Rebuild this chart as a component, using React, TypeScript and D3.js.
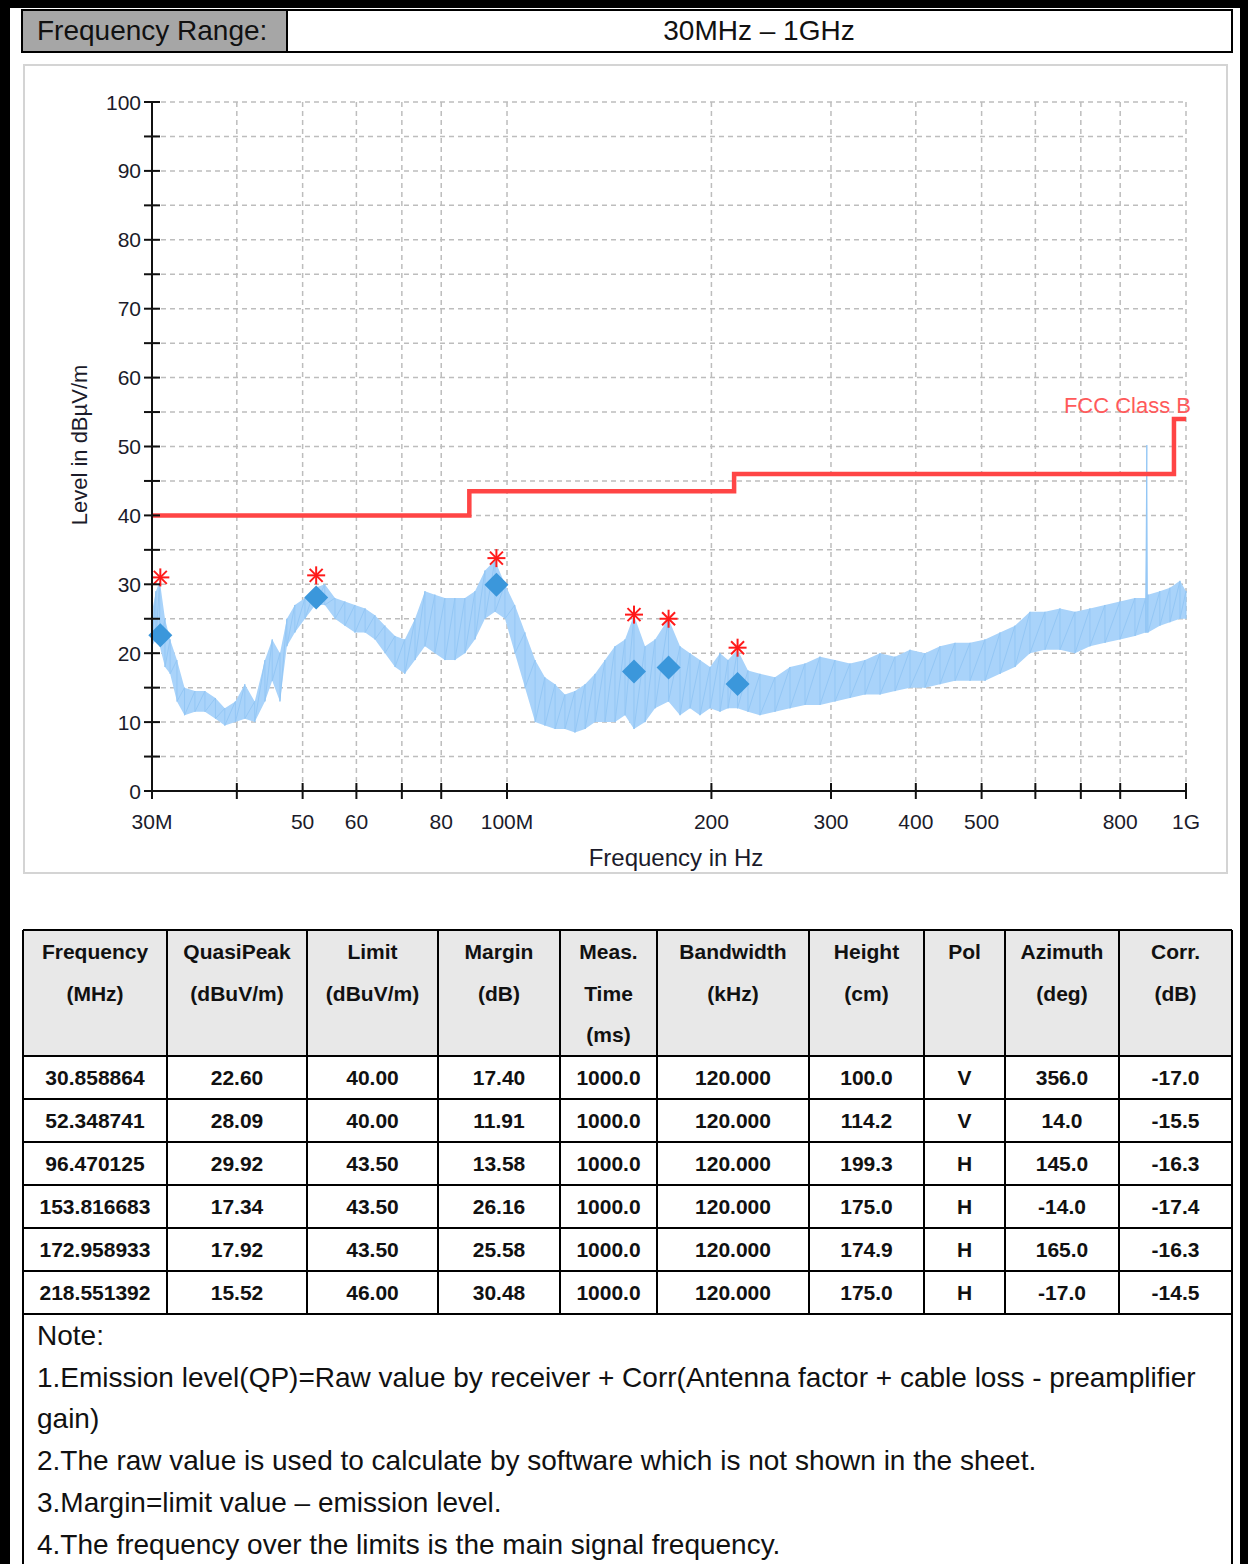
import React from 'react';
import * as d3 from 'd3';

// trace envelope (MHz, dBµV/m low / high)
const traceFreq = [30.0, 30.4, 30.8, 31.35, 31.9, 32.65, 33.5, 34.7, 35.9, 37.2, 38.4, 39.8, 41.1, 42.5, 44.0, 45.1, 46.3, 47.4, 48.7, 50.4,
  52.2, 53.9, 55.8, 57.7, 59.7, 61.8, 63.9, 66.1, 68.4, 70.7, 73.2, 75.7, 78.3, 81.0, 83.8, 86.7, 89.7, 92.8, 96.0, 99.3,
  102.7, 106.3, 110.0, 113.7, 117.7, 121.7, 125.9, 130.3, 134.8, 139.4, 144.2, 149.2, 153.8, 159.7, 165.2, 172.9, 179.8, 186.0, 192.4, 199.1,
  205.9, 211.6, 218.5, 226.4, 235.8, 248.1, 261.1, 274.7, 289.0, 304.1, 320.0, 336.7, 354.3, 372.8, 392.2, 412.7, 434.2, 456.9, 480.7, 505.8,
  532.2, 559.9, 589.1, 619.9, 652.2, 686.2, 722.0, 759.7, 799.3, 841.0, 872.0, 875.6, 879.0, 915.2, 947.0, 979.8, 1000];
const traceLow = [21, 22, 21, 18, 17, 13, 11, 11.5, 11.5, 10.5, 9.5, 10, 10.5, 10, 13, 16, 13, 21, 23, 25,
  27, 27, 25, 24, 23, 23, 22, 20, 18, 17, 19, 21, 20, 19, 19, 20, 22, 25, 26, 25,
  20, 15, 10, 9.5, 9, 9, 8.5, 9, 10, 10, 10, 11, 9, 10, 12, 13, 11, 12, 11, 12,
  11.5, 12, 12, 11.5, 11, 11.5, 12, 12.5, 12.5, 13, 13.5, 14, 14, 14.5, 15, 15, 15.5, 16, 16, 16,
  17, 18, 20, 20.5, 20.5, 20, 21, 21.5, 22, 22.5, 23, 23, 23, 24, 24.5, 25, 25];
const traceHigh = [26, 29, 30.5, 25, 22, 19, 15, 14.5, 14.5, 13.5, 12, 13, 15.5, 13, 19, 22, 20, 25, 27, 28,
  29.5, 30, 28, 27.5, 27, 26.5, 25.5, 24, 22.5, 22, 25, 29, 28.5, 28, 28, 28, 29, 32, 33.5, 30,
  27, 23, 19, 16.5, 15.5, 14, 14.5, 15.5, 17, 19, 21, 22, 25.5, 21, 22, 25, 21, 20, 19, 18,
  20, 19, 20.5, 17.5, 17, 16.5, 18, 18.5, 19.5, 19, 18.5, 19, 20, 19.5, 20.5, 20, 21, 21.5, 21.5, 22,
  23, 24, 26, 26, 26.5, 26, 26.5, 27, 27.5, 28, 28, 50.2, 28.5, 29, 29.5, 30.5, 29];

// FCC Class B limit steps
const limitFreq = [30, 88, 216, 960, 1000];
const limitLevel = [40, 43.5, 46, 54, 54];

// axis ticks
const xTicks = [30, 40, 50, 60, 70, 80, 100, 200, 300, 400, 500, 600, 700, 800, 1000];
const xTickLabels = ['30M', '', '50', '60', '', '80', '100M', '200', '300', '400', '500', '', '', '800', '1G'];
const yMajor = [0, 10, 20, 30, 40, 50, 60, 70, 80, 90, 100];
const yMinor = [5, 15, 25, 35, 45, 55, 65, 75, 85, 95];

// final measurement table
const frequency = ['30.858864', '52.348741', '96.470125', '153.816683', '172.958933', '218.551392'];
const quasiPeak = [22.60, 28.09, 29.92, 17.34, 17.92, 15.52];
const limit = [40.00, 40.00, 43.50, 43.50, 43.50, 46.00];
const margin = [17.40, 11.91, 13.58, 26.16, 25.58, 30.48];
const measTime = ['1000.0', '1000.0', '1000.0', '1000.0', '1000.0', '1000.0'];
const bandwidth = ['120.000', '120.000', '120.000', '120.000', '120.000', '120.000'];
const height = ['100.0', '114.2', '199.3', '175.0', '174.9', '175.0'];
const pol = ['V', 'V', 'H', 'H', 'H', 'H'];
const azimuth = ['356.0', '14.0', '145.0', '-14.0', '165.0', '-17.0'];
const corr = ['-17.0', '-15.5', '-16.3', '-17.4', '-16.3', '-14.5'];
// peak (pre-scan) levels for the star markers
const peakLevel = [31.0, 31.3, 33.8, 25.6, 25.0, 20.8];

const headers = [
  ['Frequency', '(MHz)'], ['QuasiPeak', '(dBuV/m)'], ['Limit', '(dBuV/m)'], ['Margin', '(dB)'],
  ['Meas.', 'Time', '(ms)'], ['Bandwidth', '(kHz)'], ['Height', '(cm)'], ['Pol'], ['Azimuth', '(deg)'], ['Corr.', '(dB)'],
];
const colEdges = [23, 167, 307, 438, 560, 657, 809, 924, 1005, 1119, 1232];

const notes = [
  'Note:',
  '1.Emission level(QP)=Raw value by receiver + Corr(Antenna factor + cable loss - preamplifier',
  'gain)',
  '2.The raw value is used to calculate by software which is not shown in the sheet.',
  '3.Margin=limit value \u2013 emission level.',
  '4.The frequency over the limits is the main signal frequency.',
];

const FONT = '"Liberation Sans", Arial, sans-serif';

export default function App() {
  const x = d3.scaleLog().domain([30, 1000]).range([152, 1186]);
  const y = d3.scaleLinear().domain([0, 100]).range([791, 102]);
  const idx = d3.range(traceFreq.length);

  const band = d3.area<number>()
    .x(i => x(traceFreq[i]))
    .y0(i => y(traceLow[i]))
    .y1(i => y(traceHigh[i]))(idx) || '';

  // zigzag through the envelope to give the trace its noisy texture
  const zig = d3.line<number>()
    .x(k => x(traceFreq[k >> 1]))
    .y(k => y(k % 2 ? traceLow[k >> 1] : traceHigh[k >> 1]))(d3.range(traceFreq.length * 2)) || '';

  const limitPath = d3.line<number>()
    .x(i => x(limitFreq[i]))
    .y(i => y(limitLevel[i]))
    .curve(d3.curveStepAfter)(d3.range(limitFreq.length)) || '';

  const rowTop = 1056, rowH = 43;
  const rows = frequency.map((f, i) => [f, quasiPeak[i].toFixed(2), limit[i].toFixed(2), margin[i].toFixed(2),
    measTime[i], bandwidth[i], height[i], pol[i], azimuth[i], corr[i]]);

  return (
    <svg width={1248} height={1564} style={{ position: 'absolute', left: 0, top: 0 }} fontFamily={FONT}>
      <rect width={1248} height={1564} fill="#fff" />
      {/* outer frame */}
      <rect x={0} y={0} width={10} height={1564} fill="#000" />
      <rect x={0} y={0} width={1248} height={8} fill="#000" />
      <rect x={1240} y={0} width={8} height={1564} fill="#000" />

      {/* header row */}
      <rect x={22} y={10} width={265} height={42} fill="#a6a6a6" />
      <rect x={22} y={10} width={1210} height={42} fill="none" stroke="#000" strokeWidth={2} />
      <line x1={287} x2={287} y1={10} y2={52} stroke="#000" strokeWidth={2} />
      <text x={37} y={40} fontSize={28} fill="#111">Frequency Range:</text>
      <text x={759} y={40} fontSize={28} fill="#111" textAnchor="middle">30MHz – 1GHz</text>

      {/* chart panel */}
      <rect x={24} y={65} width={1203} height={808} fill="#fff" stroke="#d4d4d4" strokeWidth={2} />

      {/* grid */}
      <g stroke="#bdbdbd" strokeWidth={1.5} strokeDasharray="5,4">
        {[...yMajor, ...yMinor].filter(v => v > 0).map(v => (
          <line key={'h' + v} x1={152} x2={1186} y1={y(v)} y2={y(v)} />
        ))}
        {xTicks.filter(v => v > 30).map(v => (
          <line key={'v' + v} x1={x(v)} x2={x(v)} y1={102} y2={791} />
        ))}
      </g>

      {/* trace */}
      <path d={band} fill="#a9d3fa" />
      <path d={zig} fill="none" stroke="#94c7f5" strokeWidth={1} />

      {/* limit */}
      <path d={limitPath} fill="none" stroke="#ff4545" strokeWidth={4.5} />
      <text x={1191} y={413} fontSize={22} fill="#ff5a5a" textAnchor="end">FCC Class B</text>

      {/* markers */}
      {frequency.map((f, i) => {
        const cx = x(+f), cy = y(quasiPeak[i]);
        return <polygon key={'d' + i} points={`${cx},${cy - 12} ${cx + 12},${cy} ${cx},${cy + 12} ${cx - 12},${cy}`} fill="#3b97db" />;
      })}
      {frequency.map((f, i) => {
        const cx = x(+f), cy = y(peakLevel[i]);
        return (
          <g key={'s' + i} stroke="#ff1a1a" strokeWidth={2}>
            <line x1={cx - 9} x2={cx + 9} y1={cy} y2={cy} />
            <line x1={cx} x2={cx} y1={cy - 9} y2={cy + 9} />
            <line x1={cx - 6.5} x2={cx + 6.5} y1={cy - 6.5} y2={cy + 6.5} />
            <line x1={cx - 6.5} x2={cx + 6.5} y1={cy + 6.5} y2={cy - 6.5} />
          </g>
        );
      })}

      {/* axes */}
      <g stroke="#111" strokeWidth={2}>
        <line x1={152} x2={152} y1={102} y2={791} />
        <line x1={152} x2={1186} y1={791} y2={791} />
        {[...yMajor, ...yMinor].map(v => (
          <line key={'yt' + v} x1={144} x2={160} y1={y(v)} y2={y(v)} />
        ))}
        {xTicks.map(v => (
          <line key={'xt' + v} x1={x(v)} x2={x(v)} y1={783} y2={799} />
        ))}
      </g>
      <g fontSize={21} fill="#1b1b2a">
        {yMajor.map(v => (
          <text key={'yl' + v} x={141} y={y(v) + 7.5} textAnchor="end">{v}</text>
        ))}
        {xTicks.map((v, i) => (
          <text key={'xl' + v} x={x(v)} y={829} textAnchor="middle">{xTickLabels[i]}</text>
        ))}
      </g>
      <text x={676} y={866} fontSize={24} fill="#1b1b2a" textAnchor="middle">Frequency in Hz</text>
      <text transform="translate(87,445) rotate(-90)" fontSize={22} fill="#1b1b2a" textAnchor="middle">Level in dBµV/m</text>

      {/* table */}
      <rect x={23} y={930} width={1209} height={126} fill="#e8e8e8" />
      <g fontSize={21} fontWeight="bold" fill="#111" textAnchor="middle">
        {headers.map((h, c) => h.map((t, k) => (
          <text key={'th' + c + k} x={(colEdges[c] + colEdges[c + 1]) / 2} y={959 + k * 41.5}>{t}</text>
        )))}
        {rows.map((r, ri) => r.map((t, c) => (
          <text key={'td' + ri + c} x={(colEdges[c] + colEdges[c + 1]) / 2} y={rowTop + ri * rowH + 29}>{t}</text>
        )))}
      </g>
      <g stroke="#000" strokeWidth={2}>
        <line x1={23} x2={1232} y1={930} y2={930} />
        <line x1={23} x2={1232} y1={rowTop} y2={rowTop} />
        {rows.map((_, ri) => (
          <line key={'rl' + ri} x1={23} x2={1232} y1={rowTop + (ri + 1) * rowH} y2={rowTop + (ri + 1) * rowH} />
        ))}
        {colEdges.map((cx, c) => (
          <line key={'cl' + c} x1={cx} x2={cx} y1={930} y2={c === 0 || c === colEdges.length - 1 ? 1564 : rowTop + rows.length * rowH} />
        ))}
      </g>

      {/* notes */}
      <g fontSize={28} fill="#111">
        {notes.map((t, i) => (
          <text key={'n' + i} x={37} y={1345 + i * 41.7}>{t}</text>
        ))}
      </g>
    </svg>
  );
}
